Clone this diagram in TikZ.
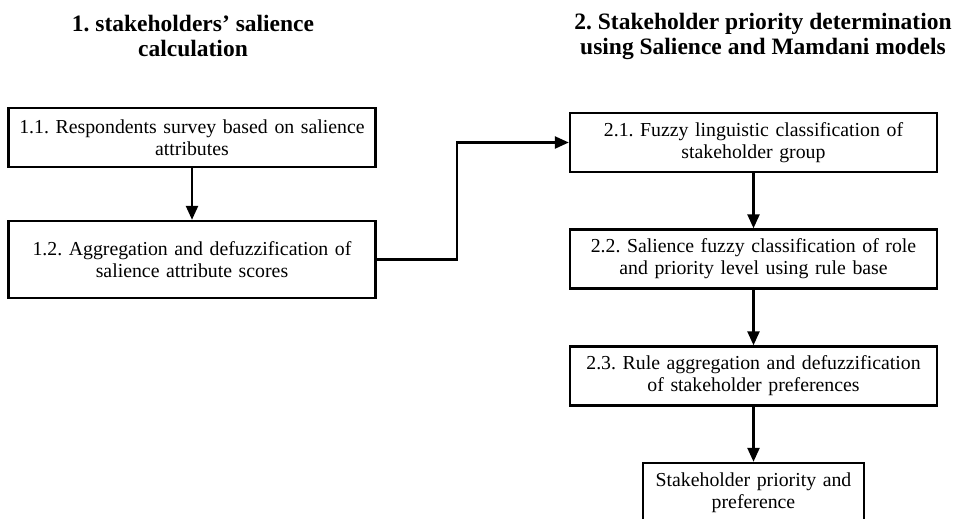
\documentclass[tikz,border=0pt]{standalone}
\usepackage{fontspec}
\setmainfont{Liberation Serif}
\usetikzlibrary{arrows.meta}
\frenchspacing

\tikzset{
  head/.style={align=center, inner sep=0pt, font=\bfseries\fontsize{23.5}{25}\selectfont},
  stage/.style={draw, line width=2.4pt, minimum width=367pt, minimum height=59pt,
    text width=362pt, align=center, inner sep=0pt, font=\fontsize{19.8}{22}\selectfont},
  flow/.style={line width=2.4pt, -{Triangle[length=14pt, width=12pt]}}
}

\begin{document}
\begin{tikzpicture}[x=1pt, y=-1pt]
	\useasboundingbox (0,0) rectangle (964,519);

	\node [head] (head1) at (193, 36) {1. stakeholders' salience\\calculation};
	\node [head] (head2) at (763, 36) {2. Stakeholder priority determination\\using Salience and Mamdani models};

	\node [stage] (s11) at (192, 137.5) {1.1. Respondents survey based on salience\\attributes};
	\node [stage, minimum height=77pt] (s12) at (192, 259.5) {1.2. Aggregation and defuzzification of\\salience attribute scores};

	\node [stage] (s21) at (753.5, 142.5) {2.1. Fuzzy linguistic classification of\\stakeholder group};
	\node [stage] (s22) at (753.5, 259) {2.2. Salience fuzzy classification of role\\and priority level using rule base};
	\node [stage] (s23) at (753.5, 376) {2.3. Rule aggregation and defuzzification\\of stakeholder preferences};
	\node [stage, minimum width=221pt, text width=215pt, minimum height=60pt] (out) at (753.5, 493) {Stakeholder priority and\\preference};

	\coordinate (bend) at (457, 0);
	\draw [flow] (s11) -- (s12);
	\draw [flow] (s12.east) -| (bend |- s21) -- (s21.west);
	\draw [flow] (s21) -- (s22);
	\draw [flow] (s22) -- (s23);
	\draw [flow] (s23) -- (out);
\end{tikzpicture}
\end{document}
